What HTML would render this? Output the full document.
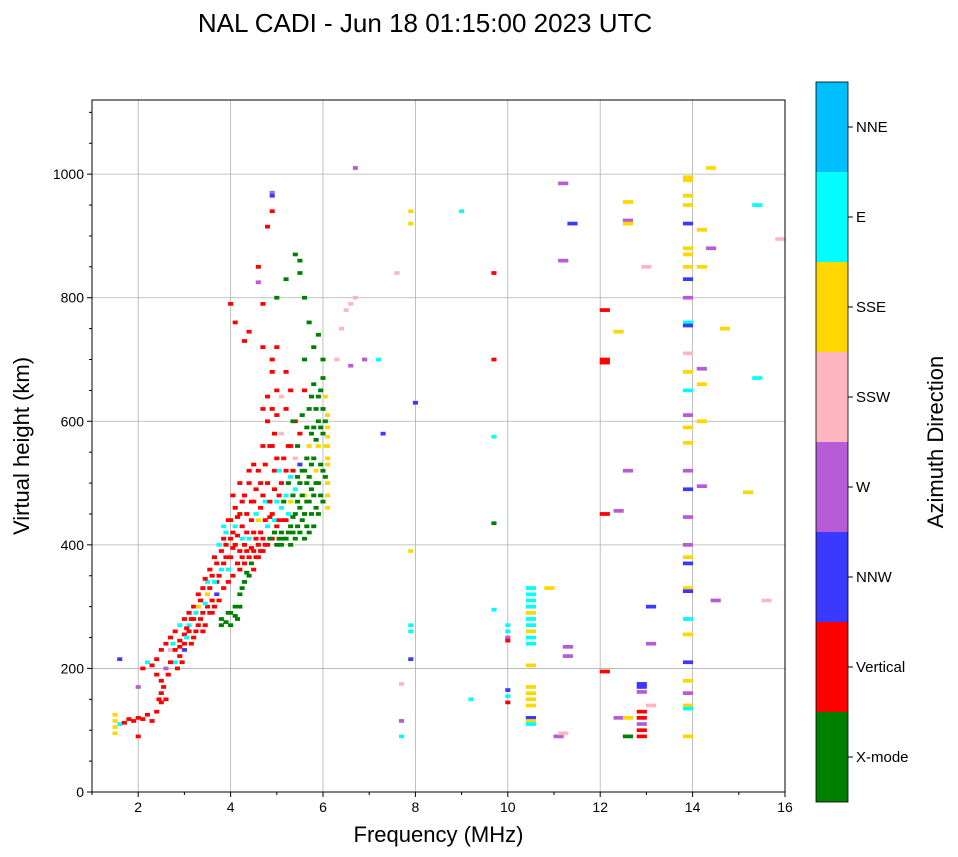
<!DOCTYPE html>
<html><head><meta charset="utf-8"><style>
html,body{margin:0;padding:0;background:#fff;}
svg{display:block;font-family:"Liberation Sans",sans-serif;}
</style></head><body>
<svg id="chart" width="958" height="857" viewBox="0 0 958 857">
<text x="425" y="32" font-size="26" text-anchor="middle">NAL CADI - Jun 18 01:15:00 2023 UTC</text>
<g id="grid"></g>
<g id="marks"></g>
<g id="axes"></g>
<g id="cbar"></g>
</svg>
<script>
const dirNames = ["X-mode","Vertical","NNW","W","SSW","SSE","E","NNE"];
const dirColors = ["#008000","#ff0000","#3a3aff","#b85bd6","#ffb6c1","#ffd700","#00ffff","#00bfff"];
const xTicks = [2,4,6,8,10,12,14,16];
const yTicks = [0,200,400,600,800,1000];
const echoData = "1.5,95,5;1.5,105,5;1.5,115,5;1.5,125,5;1.6,110,6;1.7,112,1;1.8,118,1;1.9,115,1;2.0,120,1;2.1,118,1;2.2,125,1;2.0,90,1;1.6,215,2;2.0,170,3;2.1,200,1;2.2,210,6;2.3,205,1;2.4,215,1;2.4,190,1;2.5,160,1;2.5,180,1;2.5,145,1;2.6,150,1;2.6,200,3;2.5,230,1;2.6,240,1;2.7,230,4;2.7,250,1;2.8,210,6;2.8,230,1;2.8,260,1;2.9,220,1;2.9,245,1;2.9,270,6;3.0,240,1;3.0,255,1;3.0,280,1;3.0,230,2;3.1,260,1;3.1,290,1;3.1,270,6;3.2,250,1;3.2,280,1;3.2,300,1;3.3,270,1;3.3,300,5;3.3,320,1;3.4,260,1;3.4,290,1;3.4,330,1;3.5,300,1;3.5,320,5;3.5,340,6;3.6,290,1;3.6,310,1;3.6,350,1;3.7,340,1;3.7,370,1;3.7,320,2;3.8,360,6;3.8,390,1;3.8,280,0;3.8,270,0;3.9,275,0;3.9,380,1;3.9,400,1;3.9,420,6;4.0,290,0;4.0,270,0;4.0,410,1;4.0,440,1;4.0,380,1;4.1,285,0;4.1,300,0;4.1,400,1;4.1,430,6;4.1,460,1;4.2,320,0;4.2,300,0;4.2,360,1;4.2,390,1;4.2,450,1;4.3,340,0;4.3,370,1;4.3,400,1;4.3,480,1;4.4,350,0;4.4,380,1;4.4,410,6;4.4,500,1;4.5,360,1;4.5,390,1;4.5,420,1;4.5,470,1;4.6,380,1;4.6,400,1;4.6,440,5;4.6,520,1;4.7,390,1;4.7,410,1;4.7,480,1;4.7,560,1;4.8,400,1;4.8,430,6;4.8,500,1;4.8,600,1;4.9,410,1;4.9,450,1;4.9,620,1;4.9,680,1;5.0,400,0;5.0,430,1;5.0,470,6;5.0,540,1;5.0,650,1;5.1,400,0;5.1,420,0;5.1,460,6;5.1,500,1;5.1,580,4;5.2,410,0;5.2,440,1;5.2,480,6;5.2,520,1;5.2,620,1;5.3,400,0;5.3,430,0;5.3,470,5;5.3,510,6;5.3,560,1;5.4,410,0;5.4,450,0;5.4,490,6;5.4,540,4;5.4,600,1;5.5,420,0;5.5,460,0;5.5,500,0;5.5,530,2;5.5,580,1;5.6,410,0;5.6,450,0;5.6,480,5;5.6,520,0;5.6,650,1;5.7,420,0;5.7,470,0;5.7,510,0;5.7,560,5;5.7,620,0;5.8,430,0;5.8,480,0;5.8,540,0;5.8,590,0;5.8,660,0;5.9,450,0;5.9,500,0;5.9,560,5;5.9,600,0;5.9,640,0;6.0,470,0;6.0,520,0;6.0,580,0;6.0,620,0;6.0,670,0;6.1,480,5;6.1,500,5;6.1,530,5;6.1,560,5;6.1,590,5;6.1,610,5;4.0,790,1;4.1,760,1;4.3,730,1;4.4,745,1;4.6,850,1;4.6,825,3;4.7,790,1;4.7,720,1;4.8,915,1;4.9,970,3;4.9,965,2;4.9,940,1;5.0,720,1;5.0,800,0;5.2,830,0;5.4,870,0;5.5,860,0;5.5,840,0;5.6,800,0;5.7,760,0;5.9,740,0;6.0,700,0;6.3,700,4;6.4,750,4;6.5,780,4;6.6,790,4;6.7,800,4;6.7,1010,3;6.6,690,3;6.9,700,3;7.2,700,6;7.3,580,2;7.6,840,4;7.9,920,5;7.9,940,5;7.9,390,5;7.9,270,6;7.9,260,6;7.9,215,2;7.7,175,4;7.7,115,3;7.7,90,6;8.0,630,2;9.0,940,6;9.2,150,6;9.7,840,1;9.7,700,1;9.7,575,6;9.7,295,6;9.7,435,0;10.0,270,6;10.0,260,6;10.0,250,3;10.0,245,1;10.0,165,2;10.0,145,1;10.0,155,6;10.5,330,6;10.5,320,6;10.5,310,6;10.5,300,6;10.5,290,5;10.5,280,6;10.5,270,6;10.5,260,5;10.5,250,6;10.5,240,6;10.5,205,5;10.5,170,5;10.5,160,5;10.5,150,5;10.5,140,5;10.5,120,2;10.5,115,5;10.5,110,6;10.9,330,5;11.2,985,3;11.2,860,3;11.4,920,2;11.3,235,3;11.3,220,3;11.1,90,3;11.2,95,4;12.1,780,1;12.1,700,1;12.1,695,1;12.1,450,1;12.1,195,1;12.4,745,5;12.4,455,3;12.4,120,3;12.6,955,5;12.6,925,3;12.6,920,5;12.6,520,3;12.6,120,5;12.9,175,2;12.9,170,2;12.9,162,3;12.9,130,1;12.9,120,1;12.9,110,3;12.9,100,1;12.9,90,1;12.6,90,0;13.0,850,4;13.1,300,2;13.1,240,3;13.1,140,4;13.9,995,5;13.9,990,5;13.9,965,5;13.9,950,5;13.9,920,2;13.9,880,5;13.9,870,5;13.9,850,5;13.9,830,2;13.9,800,3;13.9,760,6;13.9,755,2;13.9,710,4;13.9,680,5;13.9,650,6;13.9,610,3;13.9,590,5;13.9,565,5;13.9,520,3;13.9,490,2;13.9,445,3;13.9,400,3;13.9,380,5;13.9,370,2;13.9,330,5;13.9,325,2;13.9,280,6;13.9,255,5;13.9,210,2;13.9,180,5;13.9,160,3;13.9,140,5;13.9,135,6;13.9,90,5;14.4,1010,5;14.2,910,5;14.4,880,3;14.2,850,5;14.2,685,3;14.2,660,5;14.2,600,5;14.2,495,3;14.7,750,5;14.5,310,3;15.2,485,5;15.4,950,6;15.4,670,6;15.6,310,4;15.9,895,4";
const echoDataDense = "2.3,115,1;2.4,130,1;2.45,150,1;2.55,170,1;2.65,190,1;2.7,210,1;2.75,240,6;2.85,200,1;2.9,235,1;2.95,210,1;3.05,250,6;3.05,265,1;3.15,240,1;3.15,280,1;3.25,260,1;3.25,290,6;3.35,280,1;3.35,310,1;3.45,270,1;3.45,305,6;3.45,345,1;3.55,290,1;3.55,330,1;3.55,360,1;3.65,300,1;3.65,340,6;3.65,380,1;3.75,310,1;3.75,350,1;3.75,400,6;3.85,330,1;3.85,370,1;3.85,410,1;3.85,430,6;3.95,290,0;3.95,340,1;3.95,360,6;3.95,440,1;4.05,350,1;4.05,395,1;4.05,420,1;4.05,480,1;4.15,280,0;4.15,370,1;4.15,415,1;4.15,445,1;4.25,330,0;4.25,380,1;4.25,410,6;4.25,430,1;4.25,470,1;4.35,355,0;4.35,390,1;4.35,420,1;4.35,450,1;4.45,370,0;4.45,395,1;4.45,440,1;4.45,470,1;4.55,380,1;4.55,410,1;4.55,450,6;4.55,490,1;4.65,390,1;4.65,420,1;4.65,460,1;4.65,500,1;4.75,400,1;4.75,440,1;4.75,470,6;4.75,530,1;4.85,410,0;4.85,445,1;4.85,470,1;4.85,560,1;4.95,420,0;4.95,440,6;4.95,490,1;4.95,520,1;4.95,580,1;5.05,410,0;5.05,440,1;5.05,480,1;5.05,520,6;5.15,410,0;5.15,440,1;5.15,470,0;5.15,540,1;5.25,420,0;5.25,450,6;5.25,500,0;5.25,560,1;5.35,420,0;5.35,445,0;5.35,480,0;5.35,520,1;5.35,600,0;5.45,430,0;5.45,470,0;5.45,510,0;5.45,560,0;5.55,440,0;5.55,480,0;5.55,520,0;5.55,610,0;5.65,430,0;5.65,470,0;5.65,500,0;5.65,540,0;5.65,590,0;5.75,450,0;5.75,490,0;5.75,530,0;5.75,580,0;5.75,640,0;5.85,460,0;5.85,500,0;5.85,520,5;5.85,570,0;5.85,620,0;5.95,480,0;5.95,530,0;5.95,590,0;5.95,650,0;6.05,510,0;6.05,560,5;6.05,600,0;6.05,640,5;6.1,460,5;6.1,540,5;6.1,575,5;5.0,610,1;5.1,640,4;5.2,680,1;4.9,560,1;4.8,640,1;4.9,700,1;4.7,620,1;5.3,650,1;5.6,700,0;5.8,720,0;4.4,520,1;4.5,530,1;4.2,500,1";
const freqs = [], heights = [], dirs = [];
(echoData+";"+echoDataDense).split(";").forEach(s=>{const p=s.split(",");freqs.push(+p[0]);heights.push(+p[1]);dirs.push(+p[2]);});

const NS="http://www.w3.org/2000/svg";
const L=92,R=785,T=100,B=792,X0=1,X1=16,Y0=0,Y1=1120;
const xs=f=>L+(f-X0)/(X1-X0)*(R-L);
const ys=h=>B-(h-Y0)/(Y1-Y0)*(B-T);
function mk(tag,attrs,parent){const e=document.createElementNS(NS,tag);for(const k in attrs)e.setAttribute(k,attrs[k]);parent.appendChild(e);return e;}
const grid=document.getElementById("grid"),marks=document.getElementById("marks"),axes=document.getElementById("axes"),cbar=document.getElementById("cbar");

xTicks.forEach(t=>{
  const g=mk("line",{x1:xs(t),x2:xs(t),y1:T,y2:B,stroke:"#b0b0b0","stroke-width":0.8},grid);
  
  
});
yTicks.forEach(t=>{
  const g=mk("line",{x1:L,x2:R,y1:ys(t),y2:ys(t),stroke:"#b0b0b0","stroke-width":0.8},grid);
  
  
});

for(let i=0;i<freqs.length;i++){
  const w=freqs[i]>=10.4?0.22:0.11;
  const r=mk("rect",{x:xs(freqs[i]-w/2),y:ys(heights[i]+3),width:xs(w)-xs(0),height:ys(0)-ys(6),fill:dirColors[dirs[i]]},marks);
  
  
}

const frame=mk("rect",{x:L,y:T,width:R-L,height:B-T,fill:"none",stroke:"#000","stroke-width":1},axes);


for(let f=1;f<=16;f++){
  const big=xTicks.includes(f);
  mk("line",{x1:xs(f),x2:xs(f),y1:B,y2:B+(big?5:3),stroke:"#000"},axes);
}
xTicks.forEach(t=>{
  const tx=mk("text",{x:xs(t),y:B+20,"font-size":14,"text-anchor":"middle"},axes);
  tx.textContent=t;
  
  
});
for(let h=0;h<=1100;h+=50){
  const big=yTicks.includes(h);
  mk("line",{x1:L,x2:L-(big?5:3),y1:ys(h),y2:ys(h),stroke:"#000"},axes);
}
yTicks.forEach(t=>{
  const tx=mk("text",{x:L-8,y:ys(t)+5,"font-size":14,"text-anchor":"end"},axes);
  tx.textContent=t;
  
  
});
const xl=mk("text",{x:(L+R)/2,y:842,"font-size":22,"text-anchor":"middle"},axes);
xl.textContent="Frequency (MHz)";


const yl=mk("text",{x:0,y:0,"font-size":22,"text-anchor":"middle",transform:"translate(29,446) rotate(-90)"},axes);
yl.textContent="Virtual height (km)";



const CT=82,CB=802,CL=816,CW=32,seg=(CB-CT)/dirNames.length;
dirNames.forEach((n,i)=>{
  const y=CB-(i+1)*seg;
  const r=mk("rect",{x:CL,y:y,width:CW,height:seg,fill:dirColors[i]},cbar);
  
  
  mk("line",{x1:CL+CW,x2:CL+CW+5,y1:y+seg/2,y2:y+seg/2,stroke:"#000"},cbar);
  const t=mk("text",{x:CL+CW+8,y:y+seg/2+5,"font-size":15},cbar);
  t.textContent=n;
  
  
});
const cf=mk("rect",{x:CL,y:CT,width:CW,height:CB-CT,fill:"none",stroke:"#000","stroke-width":0.8},cbar);


const ct=mk("text",{x:0,y:0,"font-size":22,"text-anchor":"middle",transform:"translate(943,442) rotate(-90)"},cbar);
ct.textContent="Azimuth Direction";


</script>
</body></html>
